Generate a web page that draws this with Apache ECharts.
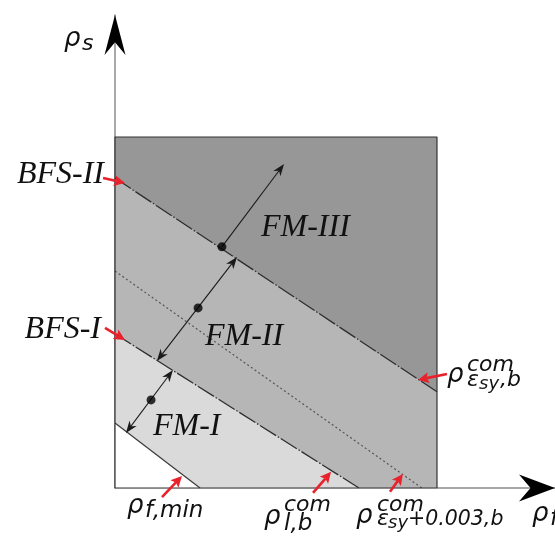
<!DOCTYPE html>
<html>
<head>
<meta charset="utf-8">
<script src="https://cdn.jsdelivr.net/npm/echarts@6/dist/echarts.min.js"></script>
<style>
  html, body { margin: 0; padding: 0; background: #ffffff; }
  #chart { width: 555px; height: 539px; }
</style>
</head>
<body>
<div id="chart"></div>
<script>
// Failure-mode map in the (rho_f, rho_s) plane.
// The design domain is the square 0..100 on both axes; axes run on past it to the arrow tips.
const BOX_MAX = 100;
const X_AXIS_MAX = 136.65;
const Y_AXIS_MAX = 134.76;

// Boundary lines, each given by its two end points on the edges of the domain
const bfs2Line   = [[0, 88.3], [100, 27.4]];   // BFS-II, rho_com(eps_sy,b)
const dottedLine = [[0, 61.8], [95.3, 0]];     // rho_com(eps_sy+0.003,b)
const bfs1Line   = [[0, 43.9], [75.8, 0]];     // BFS-I, rho_com(l,b)
const fMinLine   = [[0, 18.5], [26.4, 0]];     // rho_f,min

// Black arrows across the failure-mode bands: [x0, y0, x1, y1, headAtStart]
const modeArrows = [
  [33.2, 68.7, 52.5, 92.3, 0],
  [13.0, 36.2, 37.9, 65.8, 1],
  [3.4, 15.7, 18.0, 33.6, 1]
];
const modeDots = [[33.2, 68.7], [25.8, 51.3], [11.2, 25.1]];

// Red pointers to the boundary lines: [x0, y0, x1(tip), y1(tip)]
const pointers = [
  [-3.7, 88.3, 3.1, 86.9],
  [-3.1, 45.6, 3.1, 42.2],
  [103.1, 32.5, 94.1, 30.8],
  [14.6, -2.6, 20.8, 3.4],
  [61.5, -1.4, 67.1, 4.6],
  [85.4, -1.1, 89.4, 4.0]
];

// Axis arrow heads: [tailX, tailY, tipX, tipY]
const axisHeads = [
  [0, BOX_MAX, 0, Y_AXIS_MAX],
  [BOX_MAX, 0, X_AXIS_MAX, 0]
];

const C_DARK = '#979797', C_MID = '#b6b6b6', C_LIGHT = '#dadada';

const SERIF = "italic 32px 'Liberation Serif', 'Times New Roman', serif";
function mathFont(px) { return "oblique " + px + "px 'DejaVu Sans', 'Noto Sans', sans-serif"; }

// Text pieces: [text, x, baseline, size, kind, align]
const labels = [
  ['BFS-II', 104, 185, 32, 'serif', 'right'],
  ['BFS-I', 101, 340, 32, 'serif', 'right'],
  ['FM-III', 261, 238, 32, 'serif', 'left'],
  ['FM-II', 205, 347, 32, 'serif', 'left'],
  ['FM-I', 153, 437, 32, 'serif', 'left'],
  ['ρ', 64, 48, 26, 'math', 'left'], ['s', 82, 52, 22, 'math', 'left'],
  ['ρ', 127, 515, 26, 'math', 'left'], ['f,min', 145, 519, 23, 'math', 'left'],
  ['ρ', 264, 526, 26, 'math', 'left'], ['com', 284, 513, 22, 'math', 'left'], ['l,b', 284, 532, 23, 'math', 'left'],
  ['ρ', 356, 525, 26, 'math', 'left'], ['com', 377, 513, 22, 'math', 'left'],
  ['ε', 377, 527, 22, 'math', 'left'], ['sy', 388, 530, 18, 'math', 'left'], ['+0.003,b', 408, 527, 20.5, 'math', 'left'],
  ['ρ', 447, 384, 26, 'math', 'left'], ['com', 467, 373, 22, 'math', 'left'],
  ['ε', 467, 388, 22, 'math', 'left'], ['sy', 479, 391, 18, 'math', 'left'], [',b', 500, 388, 22, 'math', 'left'],
  ['ρ', 532, 523, 26, 'math', 'left'], ['f', 550, 527, 23, 'math', 'left']
];

function textElements() {
  return labels.map(function (l) {
    const serif = l[4] === 'serif';
    const mid = l[2] - (serif ? 0.3375 : 0.346) * l[3];
    return {
      type: 'text', x: l[1], y: mid, z: 200,
      style: {
        text: l[0],
        font: serif ? SERIF : mathFont(l[3]),
        fill: '#111111',
        align: l[5],
        verticalAlign: 'middle'
      }
    };
  });
}

// Arrow head polygon with a notch; returns points and the neck point for the shaft
function head(tip, from, len, half, notch) {
  const dx = tip[0] - from[0], dy = tip[1] - from[1];
  const l = Math.hypot(dx, dy) || 1;
  const ux = dx / l, uy = dy / l, nx = -uy, ny = ux;
  const bx = tip[0] - ux * len, by = tip[1] - uy * len;
  const neck = [tip[0] - ux * len * notch, tip[1] - uy * len * notch];
  return {
    points: [tip, [bx + nx * half, by + ny * half], neck, [bx - nx * half, by - ny * half]],
    neck: neck
  };
}

function arrowRenderer(opt) {
  return function (params, api) {
    const p0 = api.coord([api.value(0), api.value(1)]);
    const p1 = api.coord([api.value(2), api.value(3)]);
    const both = opt.startHeadDim != null && api.value(opt.startHeadDim) === 1;
    const children = [];
    let a = p0, b = p1;
    const h1 = head(p1, p0, opt.len, opt.half, opt.notch);
    children.push({ type: 'polygon', shape: { points: h1.points }, style: { fill: opt.color } });
    b = h1.neck;
    if (both) {
      const h0 = head(p0, p1, opt.len, opt.half, opt.notch);
      children.push({ type: 'polygon', shape: { points: h0.points }, style: { fill: opt.color } });
      a = h0.neck;
    }
    if (opt.shaft) {
      children.push({
        type: 'line',
        shape: { x1: a[0], y1: a[1], x2: b[0], y2: b[1] },
        style: { stroke: opt.color, lineWidth: opt.width }
      });
    }
    return { type: 'group', children: children };
  };
}

const DASH_DOT = [19, 2, 1.5, 2];

const chart = echarts.init(document.getElementById('chart'), null, { renderer: 'canvas' });

chart.setOption({
  animation: false,
  backgroundColor: '#ffffff',
  grid: { left: 115, right: 0, top: 15, bottom: 51, containLabel: false },
  xAxis: {
    type: 'value', min: 0, max: X_AXIS_MAX,
    axisLine: { show: true, lineStyle: { color: '#8c8c8c', width: 1.5 } },
    axisTick: { show: false }, axisLabel: { show: false }, splitLine: { show: false }
  },
  yAxis: {
    type: 'value', min: 0, max: Y_AXIS_MAX,
    axisLine: { show: true, lineStyle: { color: '#8c8c8c', width: 1.5 } },
    axisTick: { show: false }, axisLabel: { show: false }, splitLine: { show: false }
  },
  graphic: textElements(),
  series: [
    {
      name: 'FM-III', type: 'line', data: [[0, BOX_MAX], [BOX_MAX, BOX_MAX]],
      symbol: 'none', lineStyle: { width: 0 },
      areaStyle: { color: C_DARK, opacity: 1 }, z: 1
    },
    {
      name: 'BFS-II', type: 'line', data: bfs2Line, symbol: 'none',
      lineStyle: { color: '#2e2e2e', width: 1.3, type: DASH_DOT },
      areaStyle: { color: C_MID, opacity: 1 }, z: 2
    },
    {
      name: 'BFS-I', type: 'line', data: bfs1Line, symbol: 'none',
      lineStyle: { color: '#2e2e2e', width: 1.3, type: DASH_DOT },
      areaStyle: { color: C_LIGHT, opacity: 1 }, z: 3
    },
    {
      name: 'rho_f,min', type: 'line', data: fMinLine, symbol: 'none',
      lineStyle: { color: '#3a3a3a', width: 1.2 },
      areaStyle: { color: '#ffffff', opacity: 1 }, z: 4
    },
    {
      name: 'eps+0.003', type: 'line', data: dottedLine, symbol: 'none',
      lineStyle: { color: '#555555', width: 1.2, type: [2, 2.5] }, z: 5
    },
    {
      name: 'domain', type: 'line', symbol: 'none',
      data: [[0, 0], [0, BOX_MAX], [BOX_MAX, BOX_MAX], [BOX_MAX, 0], [0, 0]],
      lineStyle: { color: '#333333', width: 1.2 }, z: 6
    },
    {
      name: 'mode arrows', type: 'custom', clip: false, z: 7,
      renderItem: arrowRenderer({ color: '#1a1a1a', len: 12, half: 4.5, notch: 0.7, shaft: true, width: 1.1, startHeadDim: 4 }),
      encode: { x: [0, 2], y: [1, 3] },
      data: modeArrows
    },
    {
      name: 'dots', type: 'scatter', symbol: 'circle', symbolSize: 9,
      itemStyle: { color: '#000000' }, data: modeDots, z: 8
    },
    {
      name: 'pointers', type: 'custom', clip: false, z: 9,
      renderItem: arrowRenderer({ color: '#e8212b', len: 11, half: 5.5, notch: 0.8, shaft: true, width: 2.6 }),
      encode: { x: [0, 2], y: [1, 3] },
      data: pointers
    },
    {
      name: 'axis heads', type: 'custom', clip: false, z: 10,
      renderItem: function (params, api) {
        const vertical = params.dataIndex === 0;
        return arrowRenderer({
          color: '#000000', len: vertical ? 40 : 36, half: vertical ? 10.5 : 13.5,
          notch: 0.68, shaft: false
        })(params, api);
      },
      encode: { x: [0, 2], y: [1, 3] },
      data: axisHeads
    }
  ]
});
</script>
</body>
</html>
